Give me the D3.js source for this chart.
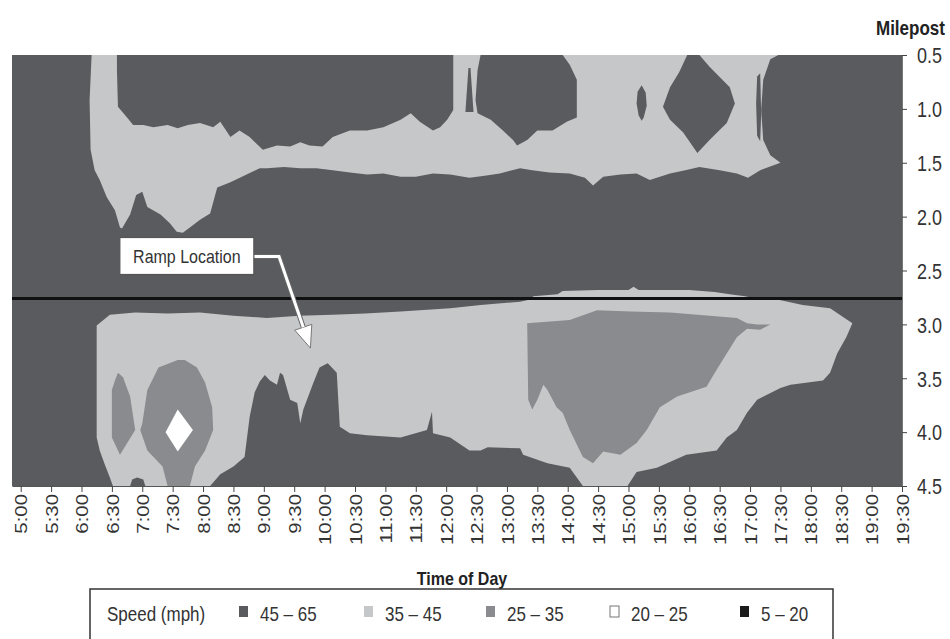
<!DOCTYPE html>
<html><head><meta charset="utf-8">
<script src="https://cdn.jsdelivr.net/npm/d3@7/dist/d3.min.js"></script>
<style>
body{margin:0;background:#fff;}
svg{display:block;font-family:"Liberation Sans",Arial,sans-serif;}
</style>
</head><body>
<svg id="chart" width="950" height="639"></svg>
<script>
// ---------------- DATA ----------------
const speedBands = ["45 – 65", "35 – 45", "25 – 35", "20 – 25", "5 – 20"];
const bandColors = ["#5a5b5e", "#c6c7c9", "#8a8b8e", "#ffffff", "#1b1b1b"];
const timeLabels = ["5:00","5:30","6:00","6:30","7:00","7:30","8:00","8:30","9:00","9:30",
  "10:00","10:30","11:00","11:30","12:00","12:30","13:00","13:30","14:00","14:30",
  "15:00","15:30","16:00","16:30","17:00","17:30","18:00","18:30","19:00","19:30"];
const mileTicks = [0.5, 1.0, 1.5, 2.0, 2.5, 3.0, 3.5, 4.0, 4.5];
const timeDomain = [291.4, 1170];   // minutes after midnight
const mileDomain = [0.5, 4.5];
const rampMilepost = 2.76;

// Contour regions: [minutes after midnight, milepost]
const upperLight = [[370,0.50],[1048,0.50],[1040,0.54],[1033,0.73],[1031,1.01],[1033,1.29],[1040,1.43],[1050,1.50],
  [1030,1.57],[1018,1.64],[1007,1.60],[990,1.57],[970,1.54],[956,1.57],[941,1.60],[921,1.66],[908,1.60],[892,1.61],
  [875,1.63],[865,1.71],[857,1.64],[842,1.60],[822,1.59],[805,1.57],[793,1.55],[773,1.60],[758,1.62],[743,1.64],[724,1.61],
  [707,1.60],[690,1.63],[675,1.63],[658,1.60],[642,1.61],[625,1.59],[608,1.57],[592,1.55],[576,1.55],[560,1.54],[543,1.55],[536,1.55],
  [523,1.61],[507,1.68],[494,1.73],[487,1.97],[477,2.03],[467,2.10],[460,2.15],[454,2.14],[447,2.06],[438,1.98],
  [425,1.91],[420,1.77],[414,1.80],[408,1.98],[400,2.11],[398,2.10],[393,1.94],[385,1.82],[378,1.66],[373,1.57],
  [369,1.38],[368,0.92]];
const upperDarkA = [[395,0.50],[727,0.50],[727,1.01],[721,1.10],[714,1.17],[707,1.20],[694,1.12],[685,1.04],[675,1.10],
  [658,1.17],[642,1.20],[625,1.20],[608,1.26],[598,1.35],[585,1.34],[576,1.31],[566,1.35],[553,1.34],
  [539,1.38],[526,1.26],[516,1.20],[507,1.26],[497,1.12],[490,1.17],[477,1.13],[465,1.15],[455,1.18],[445,1.15],
  [431,1.17],[421,1.15],[411,1.15],[405,1.08],[396,0.98],[395,0.64]];
const upperSpike = [[742,0.62],[744,0.62],[747,1.03],[739,1.03]];
const upperDarkB = [[754,0.50],[835,0.50],[842,0.59],[849,0.73],[849,1.08],[839,1.12],[825,1.20],[810,1.20],[800,1.29],
  [790,1.34],[786,1.29],[776,1.20],[764,1.10],[751,1.04],[749,0.92],[751,0.64]];
const upperDarkC = [[913,0.78],[917,0.85],[918,0.97],[915,1.08],[913,1.11],[910,1.06],[908,0.95],[909,0.84]];
const upperDarkD = [[958,0.50],[970,0.50],[980,0.61],[1000,0.80],[1005,0.95],[997,1.13],[980,1.29],[968,1.41],
  [954,1.22],[941,1.10],[934,0.98],[941,0.80],[950,0.66]];
const upperDarkE = [[1027,0.70],[1030,0.67],[1031,1.05],[1030,1.30],[1027,1.25],[1026,0.95]];
const rampStrip = [[803,2.77],[806,2.74],[830,2.72],[835,2.69],[870,2.68],[900,2.68],[905,2.65],[910,2.68],[960,2.68],
  [985,2.70],[1000,2.72],[1015,2.74],[1025,2.76],[1025,2.77]];
const lowerLight = [[375,3.01],[388,2.91],[413,2.89],[445,2.90],[477,2.89],[510,2.92],[543,2.94],[575,2.92],[608,2.91],
  [640,2.90],[675,2.88],[724,2.85],[754,2.82],[793,2.79],[803,2.77],[1047,2.77],[1072,2.82],[1099,2.85],[1121,2.99],
  [1115,3.12],[1106,3.27],[1099,3.45],[1092,3.52],[1060,3.56],[1050,3.59],[1027,3.70],[1017,3.82],[1007,3.98],
  [997,4.05],[987,4.17],[957,4.21],[928,4.33],[908,4.37],[899,4.50],[855,4.50],[842,4.33],[820,4.29],[796,4.21],
  [793,4.15],[761,4.14],[754,4.17],[743,4.17],[724,4.05],[707,4.01],[706,3.81],[701,3.98],[675,4.05],[642,4.03],
  [625,4.01],[615,3.95],[612,3.45],[605,3.38],[603,3.36],[595,3.40],[589,3.54],[579,3.79],[576,3.92],[573,3.73],
  [566,3.70],[559,3.47],[556,3.45],[553,3.56],[546,3.52],[541,3.47],[536,3.53],[531,3.63],[526,3.86],[521,4.23],
  [510,4.32],[497,4.39],[487,4.50],[391,4.50],[388,4.42],[383,4.30],[378,4.17],[375,4.05]];
const lowerDarkBump = [[408,4.50],[410,4.44],[415,4.42],[421,4.44],[423,4.50]];
const midBlob1 = [[396,3.45],[401,3.49],[408,3.67],[413,3.98],[398,4.21],[390,4.05],[390,3.61],[393,3.52]];
const midBlob2 = [[455,3.33],[462,3.33],[474,3.40],[482,3.54],[489,3.77],[490,3.98],[482,4.17],[472,4.32],[467,4.50],
  [445,4.50],[440,4.32],[425,4.17],[418,3.98],[420,3.92],[425,3.61],[436,3.40]];
const whiteCore = [[455,3.79],[470,3.98],[455,4.18],[443,4.00]];
const midBlob3 = [[800,2.99],[842,2.96],[869,2.87],[902,2.88],[941,2.89],[1007,2.94],[1017,2.99],[1027,3.00],[1040,3.00],
  [1030,3.05],[1017,3.04],[1007,3.12],[987,3.42],[977,3.58],[948,3.67],[931,3.77],[918,3.98],[908,4.10],[892,4.21],
  [875,4.18],[865,4.29],[855,4.23],[842,3.98],[835,3.82],[829,3.77],[820,3.61],[816,3.56],[810,3.70],[805,3.79],
  [801,3.70]];

const regions = [
  {pts: upperLight, band: 1}, {pts: upperDarkA, band: 0}, {pts: upperSpike, band: 0},
  {pts: upperDarkB, band: 0}, {pts: upperDarkC, band: 0}, {pts: upperDarkD, band: 0},
  {pts: upperDarkE, band: 0}, {pts: rampStrip, band: 1}, {pts: lowerLight, band: 1},
  {pts: lowerDarkBump, band: 0}, {pts: midBlob1, band: 2}, {pts: midBlob2, band: 2},
  {pts: whiteCore, band: 3}, {pts: midBlob3, band: 2}
];
const rampLabel = {text: "Ramp Location", center: [464, 2.37], elbow: [555, 2.37], tip: [586, 3.22]};

// ---------------- CHART ----------------
const svg = d3.select("#chart");
const x = d3.scaleLinear().domain(timeDomain).range([12, 902]);
const y = d3.scaleLinear().domain(mileDomain).range([55, 486]);
const toMin = s => { const [h, m] = s.split(":").map(Number); return h * 60 + m; };

const plot = svg.append("g");
plot.append("rect").attr("x", x(timeDomain[0])).attr("y", y(mileDomain[0]))
  .attr("width", x(timeDomain[1]) - x(timeDomain[0])).attr("height", y(mileDomain[1]) - y(mileDomain[0]))
  .attr("fill", bandColors[0]);

const line = d3.line().x(d => x(d[0])).y(d => y(d[1]));
plot.selectAll("path.region").data(regions).join("path").attr("class", "region")
  .attr("d", d => line(d.pts) + "Z").attr("fill", d => bandColors[d.band]);

// ramp line
plot.append("line").attr("x1", x(timeDomain[0])).attr("x2", x(timeDomain[1]))
  .attr("y1", y(rampMilepost)).attr("y2", y(rampMilepost))
  .attr("stroke", "#111").attr("stroke-width", 3);

// x axis
const xAxis = svg.append("g").attr("transform", `translate(0,${y(mileDomain[1])})`)
  .call(d3.axisBottom(x).tickValues(timeLabels.map(toMin)).tickSize(6).tickSizeOuter(0).tickFormat((d, i) => timeLabels[i]));
xAxis.select(".domain").attr("stroke", "#555");
xAxis.selectAll(".tick line").attr("stroke", "#444");
xAxis.selectAll(".tick text")
  .attr("x", 0).attr("y", 0).attr("dy", "0.36em")
  .attr("text-anchor", "end")
  .attr("transform", "translate(0,8) rotate(-90) scale(1.2,1)")
  .attr("font-size", 17).attr("fill", "#333").attr("font-family", "Liberation Sans, Arial, sans-serif");

// y axis (right)
const yAxis = svg.append("g").attr("transform", `translate(${x(timeDomain[1])},0)`)
  .call(d3.axisRight(y).tickValues(mileTicks).tickSize(5).tickSizeOuter(0).tickFormat(d3.format(".1f")));
yAxis.select(".domain").attr("stroke", "#777");
yAxis.selectAll(".tick line").attr("stroke", "#444");
yAxis.selectAll(".tick text").attr("x", 0).attr("dy", "0.36em")
  .attr("transform", "translate(15,0) scale(1,1.2)")
  .attr("font-size", 18).attr("fill", "#333").attr("font-family", "Liberation Sans, Arial, sans-serif");

svg.append("text").attr("transform", "translate(876,35) scale(1,1.2)")
  .attr("font-size", 17).attr("font-weight", "bold").attr("fill", "#222").text("Milepost");

svg.append("text").attr("transform", "translate(462,585) scale(1,1.2)")
  .attr("text-anchor", "middle").attr("font-size", 16).attr("font-weight", "bold").attr("fill", "#222")
  .text("Time of Day");

// annotation
const cx = x(rampLabel.center[0]), cy = y(rampLabel.center[1]);
const ex = x(rampLabel.elbow[0]), ey = y(rampLabel.elbow[1]);
const tx = x(rampLabel.tip[0]), ty = y(rampLabel.tip[1]);
const ang = Math.atan2(ty - ey, tx - ex);
const headLen = 22, headW = 9;
const bx = tx - headLen * Math.cos(ang), by = ty - headLen * Math.sin(ang);
const ann = svg.append("g");
const leader = `M${cx + 66},${cy}L${ex},${ey}L${bx},${by}`;
ann.append("path").attr("d", leader).attr("fill", "none").attr("stroke", "#666").attr("stroke-width", 5);
const headPts = [[tx, ty], [bx + headW * Math.sin(ang), by - headW * Math.cos(ang)], [bx - headW * Math.sin(ang), by + headW * Math.cos(ang)]];
ann.append("path").attr("d", "M" + headPts.join("L") + "Z").attr("fill", "#fff").attr("stroke", "#777").attr("stroke-width", 1);
ann.append("path").attr("d", leader).attr("fill", "none").attr("stroke", "#fff").attr("stroke-width", 3);
ann.append("rect").attr("x", cx - 67).attr("y", cy - 19).attr("width", 134).attr("height", 37)
  .attr("fill", "#fff").attr("stroke", "#555").attr("stroke-width", 1.2);
ann.append("text").attr("transform", `translate(${cx},${cy + 7}) scale(1,1.2)`)
  .attr("text-anchor", "middle").attr("font-size", 16).attr("fill", "#333").text(rampLabel.text);

// legend
const leg = svg.append("g");
leg.append("rect").attr("x", 90).attr("y", 589).attr("width", 743).attr("height", 54)
  .attr("fill", "#fff").attr("stroke", "#333").attr("stroke-width", 1.5);
leg.append("text").attr("transform", "translate(107,621) scale(1,1.2)").attr("font-size", 17).attr("fill", "#333")
  .text("Speed (mph)");
const legX = [239, 364, 486, 610, 740];
speedBands.forEach((b, i) => {
  leg.append("rect").attr("x", legX[i]).attr("y", 606).attr("width", 9).attr("height", 11)
    .attr("fill", bandColors[i]).attr("stroke", i === 3 ? "#777" : "none").attr("stroke-width", 1);
  leg.append("text").attr("transform", `translate(${legX[i] + 21},621) scale(1,1.2)`)
    .attr("font-size", 17).attr("fill", "#333").text(b);
});
</script>
</body></html>
